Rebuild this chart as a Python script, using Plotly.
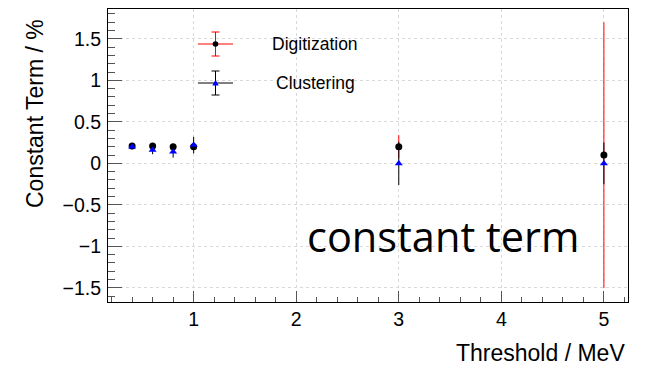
import plotly.graph_objects as go

# Threshold scan of the calorimeter constant term
thresholds = [0.4, 0.6, 0.8, 1.0, 3.0, 5.0]          # MeV
digitization = [0.21, 0.21, 0.20, 0.20, 0.20, 0.10]    # %
digitization_err = [0.02, 0.02, 0.02, 0.02, 0.14, 1.60]
clustering = [0.20, 0.16, 0.14, 0.22, 0.00, 0.00]      # %
clustering_err = [0.03, 0.05, 0.07, 0.10, 0.26, 0.25]

x_ticks = [1, 2, 3, 4, 5]
y_ticks = [-1.5, -1, -0.5, 0, 0.5, 1, 1.5]

W, H = 649, 365
ML, MR, MT, MB = 108, 21, 9, 63
FONT = "Liberation Sans, Arial, Helvetica, sans-serif"


def px(xp):
    return (xp - ML) / (W - ML - MR)


def py(yp):
    return (H - MB - yp) / (H - MT - MB)


fig = go.Figure()

fig.add_trace(go.Scatter(
    x=thresholds, y=digitization, mode="markers", name="Digitization",
    marker=dict(symbol="circle", size=7, color="black"),
    error_y=dict(type="data", array=digitization_err, visible=True,
                 color="red", thickness=1, width=0),
    showlegend=False,
))
fig.add_trace(go.Scatter(
    x=thresholds, y=clustering, mode="markers", name="Clustering",
    marker=dict(symbol="triangle-up", size=7, color="blue"),
    error_y=dict(type="data", array=clustering_err, visible=True,
                 color="black", thickness=1, width=0),
    showlegend=False,
))

# Hand-drawn legend: error-bar cross with marker, plus label
shapes = []
annotations = []
legend_rows = [
    ("Digitization", 44, "red", "circle", "black"),
    ("Clustering", 83, "black", "triangle", "blue"),
]
cx = 215.5
for label, cy, lcol, sym, mcol in legend_rows:
    line = dict(color=lcol, width=1)
    shapes.append(dict(type="line", xref="paper", yref="paper",
                       x0=px(cx - 17.5), x1=px(cx + 17.5), y0=py(cy), y1=py(cy), line=line))
    shapes.append(dict(type="line", xref="paper", yref="paper",
                       x0=px(cx), x1=px(cx), y0=py(cy - 12), y1=py(cy + 12), line=line))
    for cap in (cy - 12, cy + 12):
        shapes.append(dict(type="line", xref="paper", yref="paper",
                           x0=px(cx - 4), x1=px(cx + 4), y0=py(cap), y1=py(cap), line=line))
    if sym == "circle":
        shapes.append(dict(type="circle", xref="paper", yref="paper",
                           x0=px(cx - 2.8), x1=px(cx + 2.8), y0=py(cy - 2.8), y1=py(cy + 2.8),
                           fillcolor=mcol, line=dict(color=mcol, width=0)))
    else:
        path = "M {} {} L {} {} L {} {} Z".format(
            px(cx - 3.2), py(cy + 2.6), px(cx + 3.2), py(cy + 2.6), px(cx), py(cy - 3.2))
        shapes.append(dict(type="path", xref="paper", yref="paper", path=path,
                           fillcolor=mcol, line=dict(color=mcol, width=0)))
    annotations.append(dict(text=label, xref="paper", yref="paper",
                            x=px(315), y=py(cy), xanchor="center", yanchor="middle",
                            showarrow=False, font=dict(family=FONT, size=17.5, color="black")))

# Axis titles
annotations.append(dict(text="Threshold / MeV", xref="paper", yref="paper",
                        x=px(626), y=py(353), xanchor="right", yanchor="middle",
                        height=22, borderpad=0,
                        showarrow=False, font=dict(family=FONT, size=23, color="black")))
annotations.append(dict(text="Constant Term / %", xref="paper", yref="paper",
                        x=px(35), y=py(114), xanchor="center", yanchor="middle",
                        textangle=-90, showarrow=False,
                        font=dict(family=FONT, size=23, color="black")))

# Panel caption
annotations.append(dict(text="constant term", xref="paper", yref="paper",
                        x=px(305), y=py(236), xanchor="left", yanchor="middle",
                        showarrow=False,
                        font=dict(family="Open Sans, sans-serif", size=41.5, color="black")))

axis_common = dict(
    showline=True, linecolor="black", linewidth=1, mirror=True,
    ticks="inside", tickwidth=1, tickcolor="#555555",
    showgrid=True, gridcolor="#d9d9d9", griddash="dot", gridwidth=1,
    zeroline=False,
    tickfont=dict(family=FONT, size=19.5, color="black"),
)

fig.update_layout(
    width=W, height=H,
    margin=dict(l=ML, r=MR, t=MT, b=MB),
    paper_bgcolor="white", plot_bgcolor="white",
    shapes=shapes, annotations=annotations,
    xaxis=dict(range=[0.165, 5.235], tickvals=x_ticks, ticktext=[str(v) for v in x_ticks],
               ticklen=11, ticklabelstandoff=0,
               minor=dict(ticks="inside", ticklen=5.5, dtick=0.2, tick0=0,
                          tickcolor="#555555", showgrid=False),
               **axis_common),
    yaxis=dict(range=[-1.67, 1.86], tickvals=y_ticks,
               ticktext=["\u22121.5", "\u22121", "\u22120.5", "0", "0.5", "1", "1.5"],
               ticklen=14, ticklabelstandoff=2,
               minor=dict(ticks="inside", ticklen=7, dtick=0.1, tick0=0,
                          tickcolor="#555555", showgrid=False),
               **axis_common),
    showlegend=False,
)

fig.write_html("out.html")
